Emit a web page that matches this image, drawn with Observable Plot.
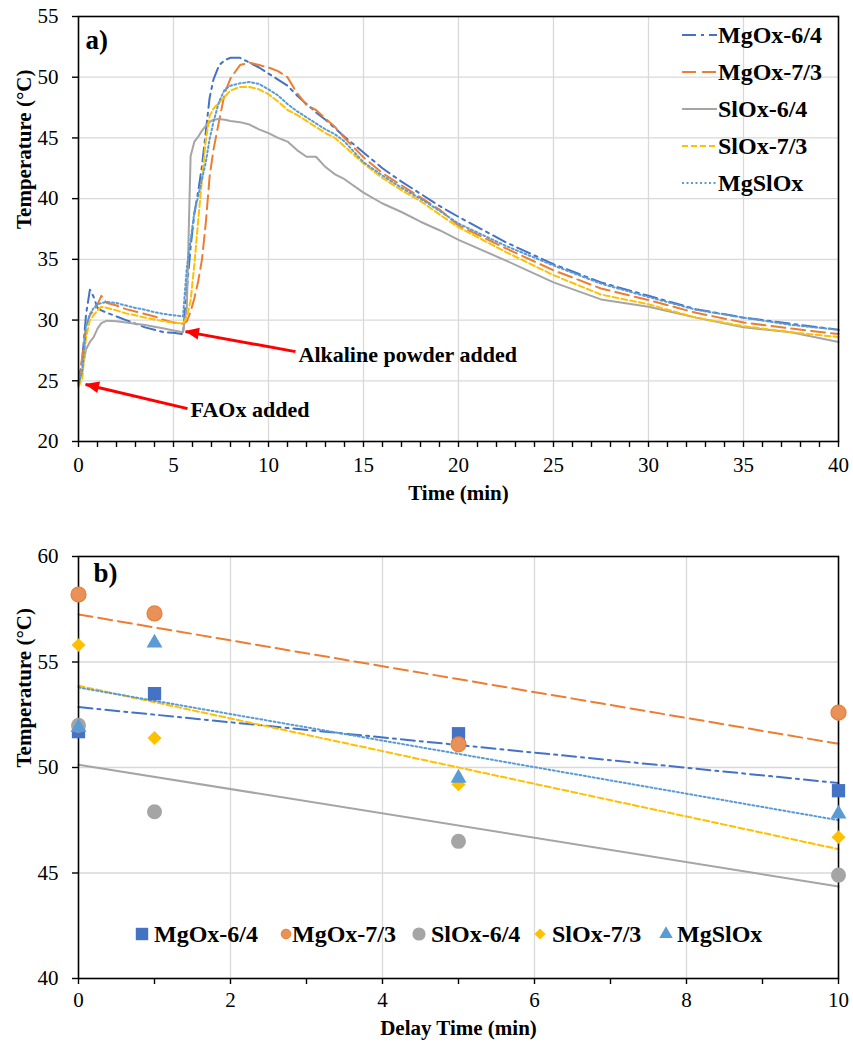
<!DOCTYPE html>
<html><head><meta charset="utf-8">
<script src="https://cdn.jsdelivr.net/npm/d3@7"></script>
<script src="https://cdn.jsdelivr.net/npm/@observablehq/plot@0.6"></script>
<style>
body{margin:0;background:#fff;font-family:'Liberation Serif','DejaVu Serif',serif;}
#wrap{position:relative;width:853px;height:1044px;background:#fff;}
.panel{position:absolute;left:0;}
.leg{position:absolute;display:flex;align-items:center;font-weight:bold;font-size:24px;color:#000;white-space:nowrap;font-family:'Liberation Serif','DejaVu Serif',serif;}
</style></head><body>
<div id="wrap"><div id="pa" class="panel" style="top:0"></div><div id="pb" class="panel" style="top:510px"></div></div>
<script>
// ---------- DATA ----------
const seriesNames = ["MgOx-6/4","MgOx-7/3","SlOx-6/4","SlOx-7/3","MgSlOx"];

// Panel a: temperature (°C) vs time (min)
const timeMin = [0,0.2,0.4,0.6,0.8,1.0,1.2,1.5,2,2.5,3,3.5,4,4.5,5,5.5,5.7,5.9,6.1,6.3,6.5,6.7,6.9,7.1,7.4,7.7,8,8.5,9,9.5,10,10.5,11,11.5,12,12.5,13,13.5,14,15,16,17,18,19,20,22.5,25,27.5,30,32.5,35,37.5,40];
const mgox64 = [24.8,26.8,30.5,32.5,31.9,31.0,30.8,30.6,30.3,30.0,29.7,29.4,29.2,29.0,28.95,28.85,32.5,36.0,38.8,40.6,42.7,45.5,48.3,49.8,51.0,51.4,51.6,51.6,51.2,50.8,50.3,49.8,49.3,48.5,47.8,47.1,46.5,45.8,45.1,43.8,42.5,41.4,40.4,39.4,38.5,36.4,34.6,33.1,32.0,30.9,30.2,29.7,29.2];
const mgox73 = [24.7,27.0,29.5,30.4,30.8,31.3,32.0,31.4,31.2,30.9,30.7,30.5,30.3,30.0,29.8,29.7,29.9,30.7,31.8,33.2,35.0,38.0,41.8,44.0,46.4,48.7,49.9,51.0,51.2,51.0,50.8,50.5,50.0,48.7,47.7,47.3,46.6,45.9,45.0,43.4,42.1,41.1,40.1,39.1,37.8,35.9,34.1,32.6,31.65,30.6,29.8,29.3,28.85];
const slox64 = [24.6,26.0,27.6,28.2,28.6,29.3,29.75,29.95,29.9,29.8,29.7,29.6,29.45,29.3,29.15,29.0,31.0,43.5,44.7,45.1,45.6,46.0,46.3,46.5,46.55,46.5,46.4,46.3,46.1,45.7,45.4,45.0,44.7,44.0,43.45,43.45,42.6,42.0,41.6,40.5,39.6,38.9,38.1,37.4,36.6,34.9,33.1,31.7,31.1,30.2,29.4,29.0,28.2];
const slox73 = [24.5,25.2,28.6,30.0,30.4,30.8,31.1,31.0,30.8,30.55,30.4,30.2,30.05,29.9,29.8,29.7,30.2,31.6,34.6,38.2,41.6,44.8,46.8,47.4,47.9,48.4,48.9,49.2,49.2,49.0,48.6,48.0,47.3,46.9,46.4,45.9,45.4,45.0,44.3,42.9,41.7,40.7,39.8,38.7,37.65,35.6,33.7,32.1,31.3,30.2,29.5,29.0,28.6];
const mgslox = [24.7,25.8,29.5,30.5,31.0,31.3,31.4,31.5,31.4,31.2,31.0,30.85,30.65,30.5,30.4,30.3,34.3,36.6,38.9,40.2,41.6,43.0,44.9,46.3,48.0,49.0,49.3,49.5,49.6,49.45,49.0,48.5,47.8,47.2,46.7,46.2,45.7,45.3,44.7,43.0,41.9,40.9,40.0,39.0,37.95,36.1,34.5,33.0,31.9,30.85,30.2,29.6,29.2];
const seriesA = [mgox64, mgox73, slox64, slox73, mgslox];

// Panel a ticks
const xTicksA = [0,5,10,15,20,25,30,35,40];
const yTicksA = [20,25,30,35,40,45,50,55];

// Panel a annotations (data units)
const annotTexts = ["Alkaline powder added","FAOx added"];
const annotTextX = [11.58, 5.9];
const annotTextY = [27.16, 22.63];
const arrowFromX = [11.42, 5.74];
const arrowFromY = [27.4, 22.71];
const arrowToX = [5.63, 0.37];
const arrowToY = [29.05, 24.69];

// Panel b: peak temperature vs delay time
const delayMin = [0,1,5,10];
const bMgox64 = [51.7,53.5,51.6,48.9];
const bMgox73 = [58.2,57.3,51.1,52.6];
const bSlox64 = [52.0,47.9,46.5,44.9];
const bSlox73 = [55.8,51.4,49.2,46.7];
const bMgslox = [51.9,55.9,49.5,47.8];
const seriesB = [bMgox64, bMgox73, bSlox64, bSlox73, bMgslox];
const xTicksB = [0,2,4,6,8,10];
const yTicksB = [40,45,50,55,60];

// ---------- STYLE ----------
const colors = ["#4472C4","#ED7D31","#A5A5A5","#FFC000","#5B9BD5"];
const dashes = ["14,5,3,5","14,6",null,"6,3","2,2.5"];
const symbols = ["square","circle","circle","diamond2","triangle"];
const fills = ["#4472C4","#E8925A","#A5A5A5","#FFC000","#5B9BD5"];
const radii = [7.5,7.5,7.5,6.3,5.9];
const legRadii = [7.0,4.8,6.6,5.0,5.0];
const FONT = "'Liberation Serif', 'DejaVu Serif', serif";
const GRID = "#d9d9d9";

// ---------- PANEL A ----------
const rowsA = [];
seriesA.forEach((arr, i) => arr.forEach((v, j) => rowsA.push({t: timeMin[j], v, s: seriesNames[i]})));
const annots = annotTexts.map((txt, i) => ({txt, x: annotTextX[i], y: annotTextY[i]}));
const arrows = arrowFromX.map((x, i) => ({x1: x, y1: arrowFromY[i], x2: arrowToX[i], y2: arrowToY[i]}));

const chartA = Plot.plot({
  width: 853, height: 510,
  marginTop: 16, marginLeft: 78, marginRight: 15, marginBottom: 69,
  style: {fontFamily: FONT, fontSize: "21px", color: "#000", background: "#fff", overflow: "visible"},
  x: {domain: [0, 40]},
  y: {domain: [20, 55]},
  marks: [
    Plot.gridX(xTicksA.filter(d => d > 0 && d < 40), {stroke: GRID, strokeOpacity: 1, strokeWidth: 1.3}),
    Plot.gridY(yTicksA.filter(d => d > 20 && d < 55), {stroke: GRID, strokeOpacity: 1, strokeWidth: 1.3}),
    ...seriesNames.map((name, i) => Plot.line(rowsA.filter(d => d.s === name), {
      x: "t", y: "v", stroke: colors[i], strokeWidth: 2, strokeDasharray: dashes[i] || undefined
    })),
    Plot.frame({stroke: "#000", strokeWidth: 1.6}),
    Plot.axisX(d3.range(0, 41, 1), {tickSize: 6, tickFormat: () => "", label: null, stroke: "#000", strokeWidth: 1.4}),
    Plot.axisX(xTicksA, {tickSize: 0, tickPadding: 16, fontSize: 21, label: null}),
    Plot.axisY(yTicksA, {tickSize: 6, tickPadding: 14, fontSize: 21, label: null, stroke: "#000", strokeWidth: 1.4}),
    Plot.link(arrows, {x1: "x1", y1: "y1", x2: "x2", y2: "y2", stroke: "#FF0000", strokeWidth: 3}),
    Plot.text(annots, {x: "x", y: "y", text: "txt", textAnchor: "start", lineAnchor: "middle", fontWeight: "bold", fontSize: 22, fill: "#000"}),
    Plot.text(["a)"], {frameAnchor: "top-left", dx: 7, dy: 24, textAnchor: "start", lineAnchor: "middle", fontWeight: "bold", fontSize: 27}),
    Plot.text(["Time (min)"], {frameAnchor: "bottom", dy: 52, lineAnchor: "middle", fontWeight: "bold", fontSize: 21}),
    Plot.text(["Temperature (°C)"], {frameAnchor: "left", dx: -54, rotate: -90, lineAnchor: "middle", fontWeight: "bold", fontSize: 21})
  ]
});
document.getElementById("pa").appendChild(chartA);

// filled arrow heads placed with the chart's own scales
{
  const sx = chartA.scale("x"), sy = chartA.scale("y");
  const svgA = d3.select(chartA);
  arrows.forEach(a => {
    const x1 = sx.apply(a.x1), y1 = sy.apply(a.y1), x2 = sx.apply(a.x2), y2 = sy.apply(a.y2);
    const ang = Math.atan2(y2 - y1, x2 - x1);
    const L = 14, W = 6;
    const bx = x2 - L * Math.cos(ang), by = y2 - L * Math.sin(ang);
    const px = -Math.sin(ang) * W, py = Math.cos(ang) * W;
    svgA.append("polygon")
      .attr("points", `${x2},${y2} ${bx + px},${by + py} ${bx - px},${by - py}`)
      .attr("fill", "#FF0000");
  });
}

// ---------- PANEL B ----------
const rowsB = [];
seriesB.forEach((arr, i) => arr.forEach((v, j) => rowsB.push({x: delayMin[j], y: v, s: seriesNames[i]})));

const chartB = Plot.plot({
  width: 853, height: 534,
  marginTop: 46, marginLeft: 78, marginRight: 15, marginBottom: 66,
  style: {fontFamily: FONT, fontSize: "21px", color: "#000", background: "#fff", overflow: "visible"},
  x: {domain: [0, 10]},
  y: {domain: [40, 60]},
  marks: [
    Plot.gridX(xTicksB.filter(d => d > 0 && d < 10), {stroke: GRID, strokeOpacity: 1, strokeWidth: 1.3}),
    Plot.gridY(yTicksB.filter(d => d > 40 && d < 60), {stroke: GRID, strokeOpacity: 1, strokeWidth: 1.3}),
    ...seriesNames.map((name, i) => Plot.linearRegressionY(rowsB.filter(d => d.s === name), {
      x: "x", y: "y", ci: 0, stroke: colors[i], strokeWidth: 2, strokeDasharray: dashes[i] || undefined
    })),
    Plot.frame({stroke: "#000", strokeWidth: 1.6}),
    ...seriesNames.map((name, i) => Plot.dot(rowsB.filter(d => d.s === name), {
      x: "x", y: "y", symbol: symbols[i], r: radii[i], fill: fills[i],
      stroke: i === 1 ? "#ED7D31" : "none", strokeWidth: 1.2
    })),
    Plot.axisX(d3.range(0, 11, 1), {tickSize: 6, tickFormat: () => "", label: null, stroke: "#000", strokeWidth: 1.4}),
    Plot.axisX(xTicksB, {tickSize: 0, tickPadding: 14, fontSize: 21, label: null}),
    Plot.axisY(yTicksB, {tickSize: 6, tickPadding: 14, fontSize: 21, label: null, stroke: "#000", strokeWidth: 1.4}),
    Plot.text(["b)"], {frameAnchor: "top-left", dx: 15, dy: 17, textAnchor: "start", lineAnchor: "middle", fontWeight: "bold", fontSize: 27}),
    Plot.text(["Delay Time (min)"], {frameAnchor: "bottom", dy: 50, lineAnchor: "middle", fontWeight: "bold", fontSize: 21}),
    Plot.text(["Temperature (°C)"], {frameAnchor: "left", dx: -54, rotate: -90, lineAnchor: "middle", fontWeight: "bold", fontSize: 21})
  ]
});
document.getElementById("pb").appendChild(chartB);

// ---------- LEGENDS ----------
const wrap = document.getElementById("wrap");
// Panel a legend (lines)
seriesNames.forEach((name, i) => {
  const div = document.createElement("div");
  div.className = "leg";
  div.style.left = "682px";
  div.style.top = (35 + 37 * i - 15) + "px";
  div.style.height = "30px";
  const ns = "http://www.w3.org/2000/svg";
  const svg = document.createElementNS(ns, "svg");
  svg.setAttribute("width", "35"); svg.setAttribute("height", "10");
  const ln = document.createElementNS(ns, "line");
  ln.setAttribute("x1", "0"); ln.setAttribute("x2", "35"); ln.setAttribute("y1", "5"); ln.setAttribute("y2", "5");
  ln.setAttribute("stroke", colors[i]); ln.setAttribute("stroke-width", "2");
  if (dashes[i]) ln.setAttribute("stroke-dasharray", dashes[i]);
  svg.appendChild(ln);
  const sp = document.createElement("span");
  sp.textContent = name;
  sp.style.marginLeft = "1px";
  div.appendChild(svg); div.appendChild(sp);
  wrap.appendChild(div);
});
// Panel b legend (markers)
const legBMarkX = [142, 286, 419, 540, 666];
const legBTextX = [154, 292, 431, 552, 677];
const legBY = 934;
const symMap = {square: d3.symbolSquare, circle: d3.symbolCircle, diamond2: d3.symbolDiamond2, triangle: d3.symbolTriangle};
seriesNames.forEach((name, i) => {
  const svg = d3.select(wrap).append("svg")
    .style("position", "absolute").style("left", (legBMarkX[i] - 10) + "px").style("top", (legBY - 10) + "px")
    .attr("width", 20).attr("height", 20);
  svg.append("path")
    .attr("transform", "translate(10,10)")
    .attr("d", d3.symbol(symMap[symbols[i]], Math.PI * legRadii[i] * legRadii[i])())
    .attr("fill", fills[i])
    .attr("stroke", i === 1 ? "#ED7D31" : "none").attr("stroke-width", 1);
  const div = document.createElement("div");
  div.className = "leg";
  div.style.left = legBTextX[i] + "px";
  div.style.top = (legBY - 15) + "px";
  div.style.height = "30px";
  div.textContent = name;
  wrap.appendChild(div);
});
</script>
</body></html>
